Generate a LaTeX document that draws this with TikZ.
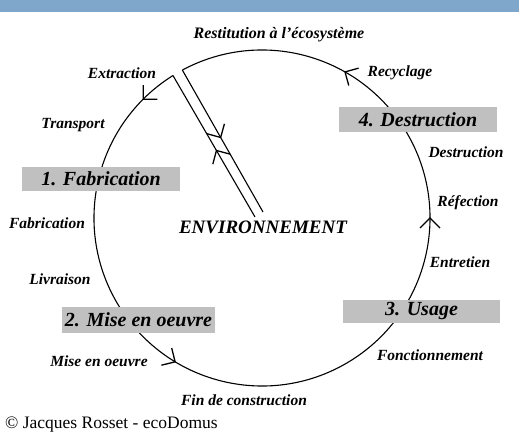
\documentclass[tikz,border=0pt]{standalone}
\usepackage{fontspec}
\setmainfont{Liberation Serif}
\newfontfamily\lblfont{Liberation Serif}
\usetikzlibrary{decorations.markings}
\definecolor{barblue}{RGB}{127,167,203}
\definecolor{boxgray}{RGB}{192,192,192}
\newcommand{\chev}{\draw[line width=1.3pt, line join=miter] (-10pt,10pt) -- (0pt,0pt) -- (-10pt,-10pt);}
\tikzset{
  lbl/.style={font=\lblfont\bfseries\itshape\fontsize{15.5}{17}\selectfont, inner sep=0pt},
  stage/.style={fill=boxgray, inner sep=0pt, font=\lblfont\bfseries\itshape\fontsize{20}{22}\selectfont},
  cyc/.style={line width=1.1pt},
  barb/.style={postaction={decorate}, decoration={markings, mark=at position #1 with {\chev}}}
}
\begin{document}
\begin{tikzpicture}[x=1pt,y=1pt]
\useasboundingbox (0,0) rectangle (519,438);
\fill[barblue] (0,426.3) rectangle (519,438);
% cycle
\coordinate (C) at (262,220);
\path (C) ++(122:168pt) coordinate (A);
\path (C) ++(478.3:168pt) coordinate (B);
\coordinate (L0) at (255,221);
\coordinate (R0) at (263,226);
\draw[cyc, postaction={decorate}, decoration={markings,
  mark=at position 0.0365 with {\chev},
  mark=at position 0.328 with {\chev},
  mark=at position 0.668 with {\chev},
  mark=at position 0.8375 with {\chev}}]
  (A) arc[start angle=122, end angle=478.3, radius=168pt];
\draw[cyc, barb=0.47] (L0) -- (A);
\draw[cyc, barb=0.475] (B) -- (R0);
% stages
\node[stage, minimum width=158pt, minimum height=24pt] (s1) at (101,259) {1. Fabrication};
\node[stage, minimum width=153pt, minimum height=26pt] (s2) at (138.5,118) {2. Mise en oeuvre};
\node[stage, minimum width=157pt, minimum height=23pt] (s3) at (421.5,126.5) {3. Usage};
\node[stage, minimum width=158pt, minimum height=25pt] (s4) at (418,318.5) {4. Destruction};
% labels
\node[lbl, font=\lblfont\bfseries\itshape\fontsize{16}{18}\selectfont] (restit) at (279,403) {Restitution à l’écosystème};
\node[lbl] (extr) at (122,365) {Extraction};
\node[lbl] (transp) at (73,313) {Transport};
\node[lbl] (fab) at (47,215) {Fabrication};
\node[lbl] (livr) at (60,159) {Livraison};
\node[lbl] (mise) at (99,77) {Mise en oeuvre};
\node[lbl] (fin) at (244,38) {Fin de construction};
\node[lbl] (recy) at (400,365) {Recyclage};
\node[lbl] (destr) at (466,286) {Destruction};
\node[lbl] (refec) at (468,235) {Réfection};
\node[lbl] (entr) at (460,176) {Entretien};
\node[lbl] (fonc) at (430,83) {Fonctionnement};
\node[lbl, font=\lblfont\bfseries\itshape\fontsize{19}{21}\selectfont] (env) at (263,211) {ENVIRONNEMENT};
\node[anchor=west, inner sep=0pt, font=\fontsize{17.5}{20}\selectfont] (copy) at (5,13) {© Jacques Rosset - ecoDomus};
\end{tikzpicture}
\end{document}
